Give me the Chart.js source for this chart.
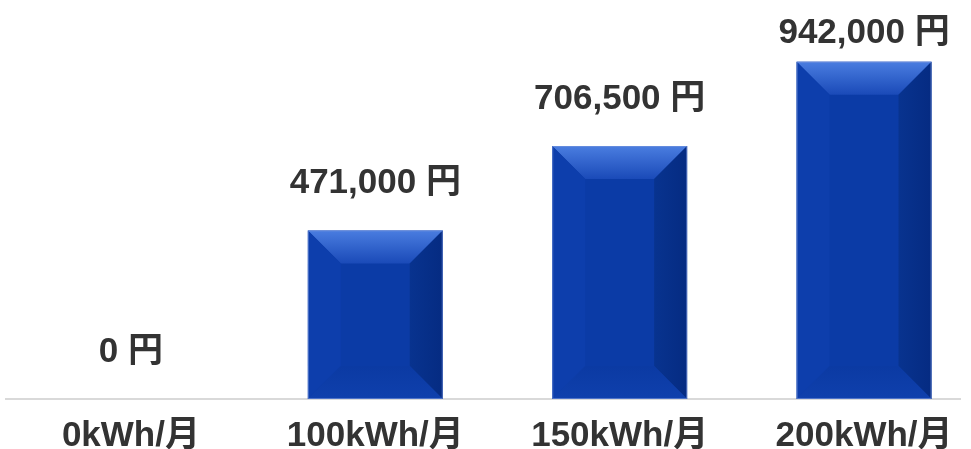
<!DOCTYPE html>
<html>
<head>
<meta charset="utf-8">
<script src="https://cdn.jsdelivr.net/npm/chart.js@4"></script>
<style>
  html, body { margin: 0; padding: 0; background: #fff; }
  #wrap { width: 971px; height: 449px; }
</style>
</head>
<body>
<div id="wrap"><canvas id="kosuto"></canvas></div>
<script>
const categories = ['0kWh/月', '100kWh/月', '150kWh/月', '200kWh/月'];
const amounts = [0, 471000, 706500, 942000];
const unit = '円';

const font = '"Liberation Sans", Arial, "Noto Sans CJK JP", sans-serif';

// bevelled bars + value labels
const bevel = {
  id: 'bevel',
  afterDatasetsDraw(chart) {
    const ctx = chart.ctx;
    const meta = chart.getDatasetMeta(0);
    meta.data.forEach((bar, i) => {
      const p = bar.getProps(['x', 'y', 'base', 'width'], true);
      const l = p.x - p.width / 2;
      const r = p.x + p.width / 2;
      const t = p.y;
      const bt = p.base;
      const h = bt - t;
      if (h > 1) {
        const b = Math.min(33, h / 2);
        ctx.save();
        // top
        let g = ctx.createLinearGradient(0, t, 0, t + b);
        g.addColorStop(0, '#4a7de0');
        g.addColorStop(1, '#1a4ab8');
        ctx.fillStyle = g;
        ctx.beginPath();
        ctx.moveTo(l, t); ctx.lineTo(r, t); ctx.lineTo(r - b, t + b); ctx.lineTo(l + b, t + b);
        ctx.closePath(); ctx.fill();
        // left
        ctx.fillStyle = '#0d3eac';
        ctx.beginPath();
        ctx.moveTo(l, t); ctx.lineTo(l + b, t + b); ctx.lineTo(l + b, bt - b); ctx.lineTo(l, bt);
        ctx.closePath(); ctx.fill();
        // right
        g = ctx.createLinearGradient(r - b, 0, r, 0);
        g.addColorStop(0, '#08338f');
        g.addColorStop(1, '#052b82');
        ctx.fillStyle = g;
        ctx.beginPath();
        ctx.moveTo(r, t); ctx.lineTo(r - b, t + b); ctx.lineTo(r - b, bt - b); ctx.lineTo(r, bt);
        ctx.closePath(); ctx.fill();
        // bottom
        g = ctx.createLinearGradient(0, bt - b, 0, bt);
        g.addColorStop(0, '#0b3aa3');
        g.addColorStop(1, '#0f40ad');
        ctx.fillStyle = g;
        ctx.beginPath();
        ctx.moveTo(l, bt); ctx.lineTo(l + b, bt - b); ctx.lineTo(r - b, bt - b); ctx.lineTo(r, bt);
        ctx.closePath(); ctx.fill();
        ctx.strokeStyle = 'rgba(120,150,220,0.6)';
        ctx.lineWidth = 1;
        ctx.strokeRect(l + 0.5, t + 0.5, p.width - 1, h - 1);
        ctx.restore();
      }
      // value label, kept inside the picture
      ctx.save();
      ctx.fillStyle = '#333333';
      ctx.font = 'bold 35px ' + font;
      ctx.textAlign = 'center';
      ctx.textBaseline = 'alphabetic';
      ctx.fillText(amounts[i].toLocaleString('en-US') + ' ' + unit, p.x, Math.max(t - 37, 43));
      ctx.restore();
    });
  },
};

const data = {
  datasets: [{
    data: amounts.map((v, i) => ({ x: i, y: v })),
    backgroundColor: '#0b3ba6',
    borderWidth: 0,
    barPercentage: 0.552,
    categoryPercentage: 1,
  }],
};

const options = {
  responsive: true,
  maintainAspectRatio: false,
  animation: false,
  layout: { padding: { left: 6, right: 11, top: 41, bottom: -25 } },
  plugins: { legend: { display: false }, tooltip: { enabled: false } },
  scales: {
    x: {
      type: 'linear',
      offset: false,
      min: -0.5112,
      max: 3.3926,
      grid: { display: false, drawTicks: false, offset: false },
      border: { display: true, color: '#d9d9d9', width: 2 },
      afterBuildTicks: (scale) => { scale.ticks = categories.map((c, i) => ({ value: i })); },
      afterFit: (scale) => { scale.paddingLeft = 0; scale.paddingRight = 0; },
      ticks: {
        autoSkip: false,
        maxRotation: 0,
        padding: 20,
        color: '#333333',
        font: { family: font, size: 35, weight: 'bold', lineHeight: 1 },
        callback: (v) => categories[v],
      },
    },
    y: { display: false, min: 0, max: 1000000 },
  },
};

new Chart(document.getElementById('kosuto'), { type: 'bar', data, options, plugins: [bevel] });
</script>
</body>
</html>
